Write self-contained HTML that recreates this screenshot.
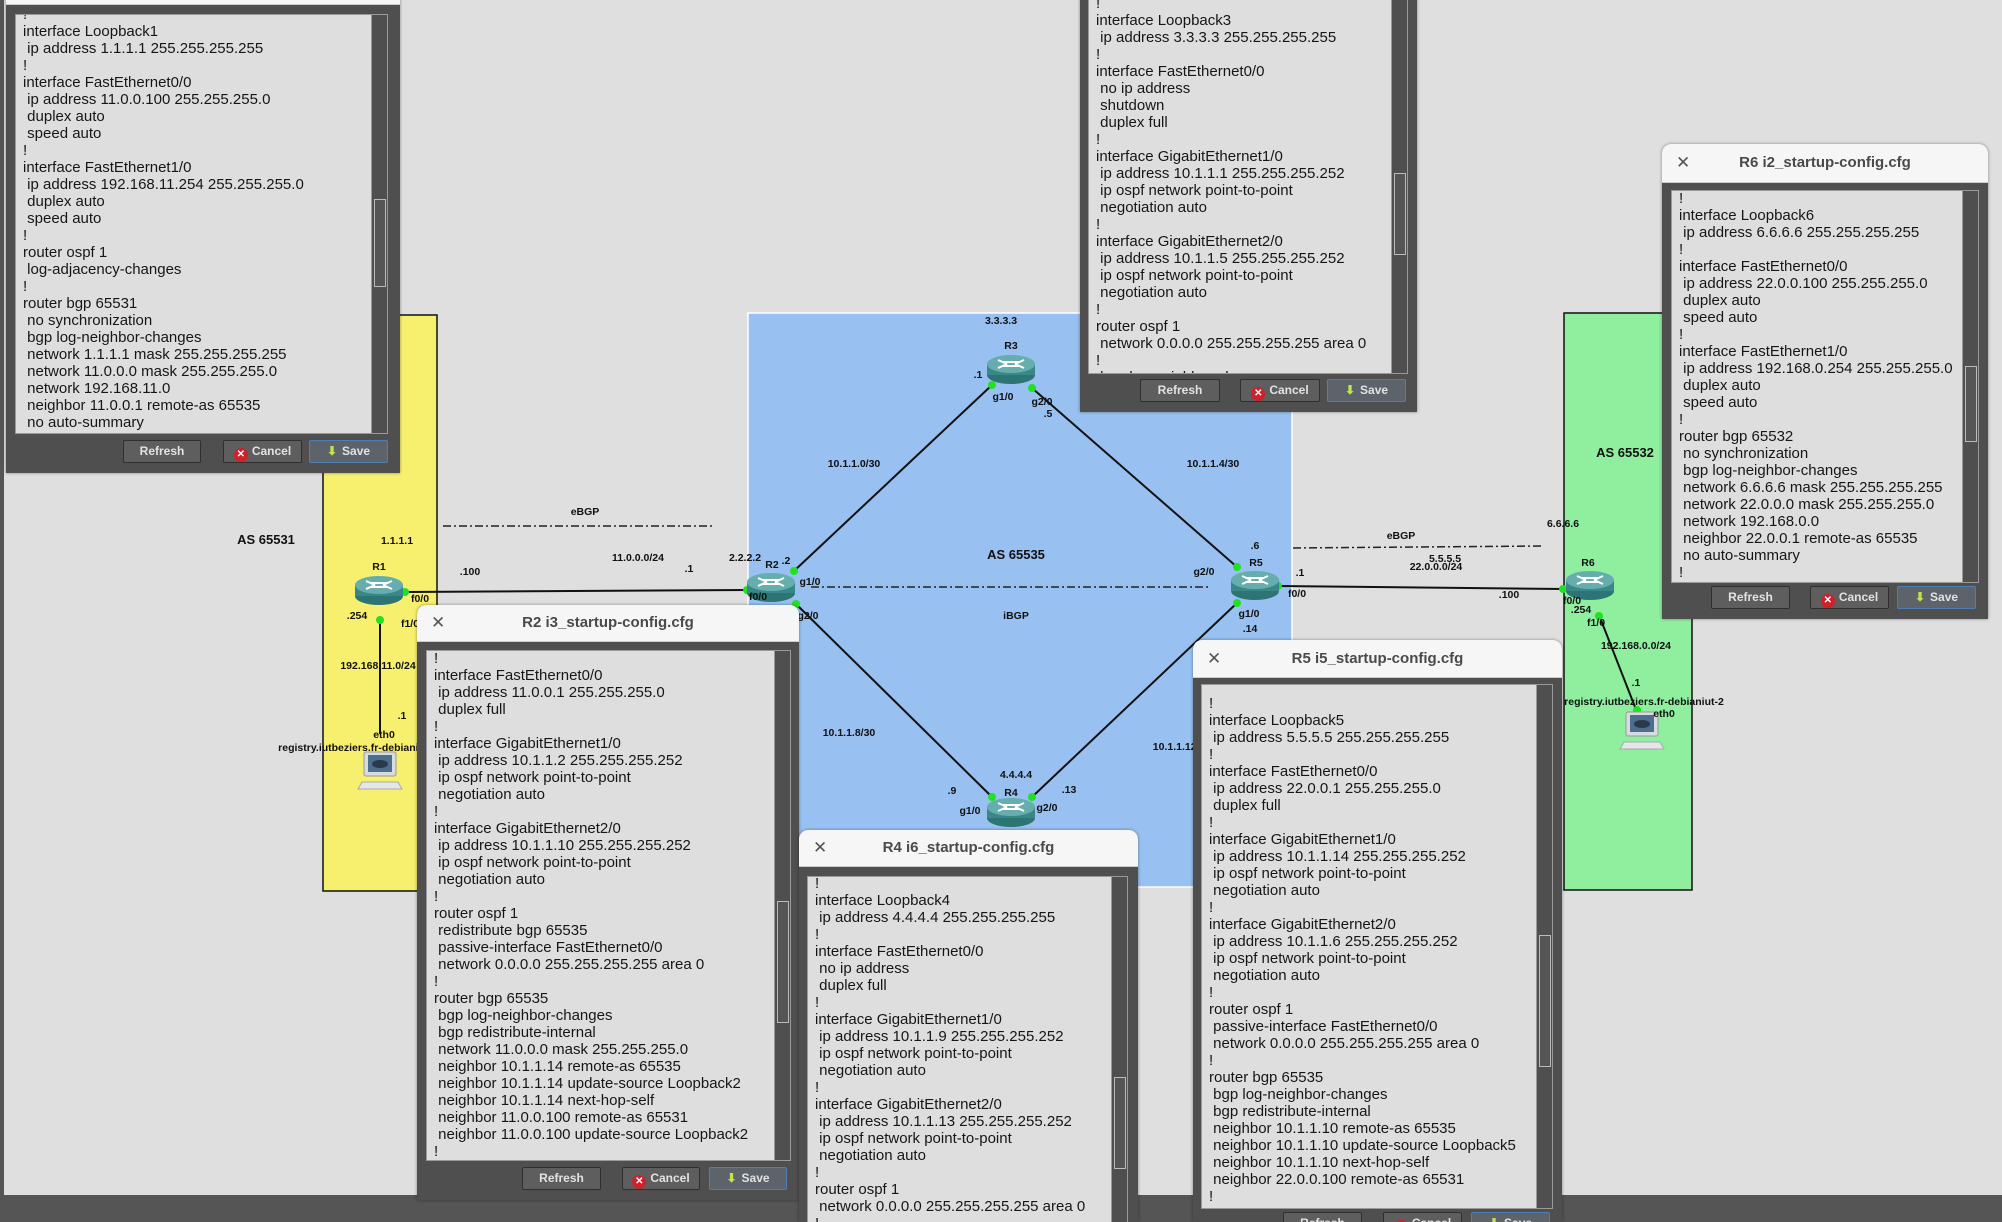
<!DOCTYPE html>
<html><head><meta charset="utf-8"><style>
body{margin:0;width:2002px;height:1222px;position:relative;overflow:hidden;background:#555555;font-family:"Liberation Sans",sans-serif}
#canvas{position:absolute;left:4px;top:0;width:1998px;height:1195px;background:#dfdfdf}
svg{position:absolute;left:0;top:0}
.dlg{position:absolute;background:#4f4f4f;border-radius:9px 9px 0 0;overflow:hidden;box-shadow:0 0 3px rgba(0,0,0,.4)}
.title{position:absolute;left:0;right:0;top:0;background:#f6f6f6;color:#4a4a4a;font-weight:bold;font-size:15px;text-align:center;border-bottom:1px solid #ccc}
.title .x{position:absolute;left:14px;font-weight:normal;font-size:17px;color:#555}
.ta{position:absolute;background:#dedede;border:1px solid #9a9a9a;overflow:hidden}
.ta pre{margin:0;position:absolute;left:7px;font-family:"Liberation Sans",sans-serif;font-size:15px;line-height:17px;color:#161616}
.sb{position:absolute;right:0;top:0;bottom:0;width:15px;background:#4f4f4f;border-left:1px solid #999}
.sb .th{position:absolute;left:2px;width:10px;border:1px solid #bbb;background:#555}
.btn{position:absolute;height:21px;background:#5e5e5e;border:1px solid #2f2f2f;border-radius:2px;color:#e2e2e2;font-weight:bold;font-size:12px;text-align:center;line-height:21px}
.btn.save{border-color:#4f7fb0;background:#5c636b}
.ci{display:inline-block;width:14px;height:14px;border-radius:7px;background:#d0202a;color:#fff;font-size:10px;line-height:14px;margin-right:4px;vertical-align:-2px}
.ar{color:#c8e04a;margin-right:5px}
</style></head><body>
<div id="canvas"></div>
<svg width="2002" height="1222" viewBox="0 0 2002 1222" font-family="Liberation Sans, sans-serif" font-weight="bold" font-size="10.5" fill="#111">
<defs>
<g id="rt">
<ellipse cx="0" cy="6" rx="24" ry="9" fill="#2d7575"/>
<rect x="-24" y="-5" width="48" height="11" fill="#3a8787"/>
<ellipse cx="0" cy="-5" rx="24" ry="9" fill="#66aeae"/>
<path d="M-13,-9 L-4,-5 M-13,-1 L-4,-5 M13,-9 L4,-5 M13,-1 L4,-5 M-8,-7 L8,-7 M-8,-3 L8,-3" stroke="#fff" stroke-width="2" fill="none"/>
</g>
<g id="pc">
<rect x="-16" y="-20" width="32" height="24" rx="2" fill="#d8dce0" stroke="#999"/>
<rect x="-12" y="-17" width="24" height="17" fill="#4e6e8e"/>
<ellipse cx="0" cy="-8" rx="8" ry="4" fill="#2a3a4a"/>
<path d="M-18,10 L18,10 L22,17 L-22,17 Z" fill="#e4e6e8" stroke="#aaa"/>
</g>
</defs>
<rect x="323" y="315" width="114" height="576" fill="#f7f06e" stroke="#111" stroke-width="1.5"/>
<rect x="748" y="313" width="544" height="574" fill="#98c0f0" stroke="#fff" stroke-width="1.5"/>
<rect x="1564" y="313" width="128" height="577" fill="#8fef9f" stroke="#111" stroke-width="1.5"/>
<g stroke="#111" stroke-width="2">
<line x1="405" y1="592" x2="747" y2="590"/>
<line x1="794" y1="571" x2="992" y2="385"/>
<line x1="1032" y1="388" x2="1237" y2="567"/>
<line x1="796" y1="604" x2="992" y2="797"/>
<line x1="1032" y1="797" x2="1237" y2="603"/>
<line x1="1278" y1="586" x2="1563" y2="589"/>
<line x1="380" y1="618" x2="380" y2="734"/>
<line x1="1599" y1="615" x2="1637" y2="712"/>
</g>
<g stroke="#222" stroke-width="1.5" stroke-dasharray="8,3,2,3">
<line x1="443" y1="526" x2="715" y2="526"/>
<line x1="811" y1="587" x2="1210" y2="587"/>
<line x1="1293" y1="548" x2="1542" y2="546"/>
</g>
<g fill="#22e022">
<circle cx="405" cy="592" r="4"/><circle cx="747" cy="590" r="4"/>
<circle cx="794" cy="571" r="4"/><circle cx="992" cy="385" r="4"/>
<circle cx="1032" cy="388" r="4"/><circle cx="1237" cy="567" r="4"/>
<circle cx="796" cy="604" r="4"/><circle cx="992" cy="797" r="4"/>
<circle cx="1032" cy="797" r="4"/><circle cx="1237" cy="603" r="4"/>
<circle cx="1278" cy="586" r="4"/><circle cx="1563" cy="589" r="4"/>
<circle cx="380" cy="620" r="4"/><circle cx="1599" cy="616" r="4"/>
<circle cx="1637" cy="710" r="4"/>
</g>
<use href="#rt" x="379" y="590"/>
<use href="#rt" x="771" y="587"/>
<use href="#rt" x="1011" y="369"/>
<use href="#rt" x="1011" y="812"/>
<use href="#rt" x="1255" y="585"/>
<use href="#rt" x="1590" y="585"/>
<use href="#pc" x="380" y="772"/>
<use href="#pc" x="1642" y="732"/>
<g text-anchor="middle">
<text x="266" y="544" font-size="13">AS 65531</text>
<text x="397" y="544">1.1.1.1</text>
<text x="379" y="570">R1</text>
<text x="470" y="575">.100</text>
<text x="585" y="515">eBGP</text>
<text x="638" y="561">11.0.0.0/24</text>
<text x="689" y="572">.1</text>
<text x="745" y="561">2.2.2.2</text>
<text x="772" y="568">R2</text>
<text x="786" y="564">.2</text>
<text x="420" y="602">f0/0</text>
<text x="758" y="600">f0/0</text>
<text x="810" y="585">g1/0</text>
<text x="808" y="619">g2/0</text>
<text x="357" y="619">.254</text>
<text x="410" y="627">f1/0</text>
<text x="378" y="669">192.168.11.0/24</text>
<text x="402" y="719">.1</text>
<text x="384" y="738">eth0</text>
<text x="358" y="751">registry.iutbeziers.fr-debianiut-1</text>
<text x="854" y="467">10.1.1.0/30</text>
<text x="1213" y="467">10.1.1.4/30</text>
<text x="1001" y="324">3.3.3.3</text>
<text x="1011" y="349">R3</text>
<text x="978" y="378">.1</text>
<text x="1003" y="400">g1/0</text>
<text x="1042" y="405">g2/0</text>
<text x="1048" y="417">.5</text>
<text x="1016" y="559" font-size="13">AS 65535</text>
<text x="1016" y="619">iBGP</text>
<text x="1255" y="549">.6</text>
<text x="1256" y="566">R5</text>
<text x="1204" y="575">g2/0</text>
<text x="1297" y="597">f0/0</text>
<text x="1249" y="617">g1/0</text>
<text x="1250" y="632">.14</text>
<text x="1300" y="576">.1</text>
<text x="1401" y="539">eBGP</text>
<text x="1445" y="562">5.5.5.5</text>
<text x="1436" y="570">22.0.0.0/24</text>
<text x="1509" y="598">.100</text>
<text x="1625" y="457" font-size="13">AS 65532</text>
<text x="1563" y="527">6.6.6.6</text>
<text x="1588" y="566">R6</text>
<text x="1572" y="604">f0/0</text>
<text x="1581" y="613">.254</text>
<text x="1596" y="626">f1/0</text>
<text x="1636" y="649">192.168.0.0/24</text>
<text x="1636" y="686">.1</text>
<text x="1644" y="705">registry.iutbeziers.fr-debianiut-2</text>
<text x="1664" y="717">eth0</text>
<text x="849" y="736">10.1.1.8/30</text>
<text x="1182" y="750">10.1.1.12/30</text>
<text x="1016" y="778">4.4.4.4</text>
<text x="1011" y="796">R4</text>
<text x="952" y="794">.9</text>
<text x="1069" y="793">.13</text>
<text x="970" y="814">g1/0</text>
<text x="1047" y="811">g2/0</text>
</g>
</svg>

<div class="dlg" style="left:6px;top:-8px;width:394px;height:481px;border-radius:0">
<div class="title" style="height:12px"></div>
<div class="ta" style="left:9px;top:22px;width:371px;height:418px">
<pre style="top:-9px">!
interface Loopback1
 ip address 1.1.1.1 255.255.255.255
!
interface FastEthernet0/0
 ip address 11.0.0.100 255.255.255.0
 duplex auto
 speed auto
!
interface FastEthernet1/0
 ip address 192.168.11.254 255.255.255.0
 duplex auto
 speed auto
!
router ospf 1
 log-adjacency-changes
!
router bgp 65531
 no synchronization
 bgp log-neighbor-changes
 network 1.1.1.1 mask 255.255.255.255
 network 11.0.0.0 mask 255.255.255.0
 network 192.168.11.0
 neighbor 11.0.0.1 remote-as 65535
 no auto-summary</pre>
<div class="sb"><div class="th" style="top:184px;height:86px"></div></div>
</div>
<div class="btn" style="left:117px;top:448px;width:76px">Refresh</div>
<div class="btn" style="left:217px;top:448px;width:77px"><span class="ci">✕</span>Cancel</div>
<div class="btn save" style="left:303px;top:448px;width:77px"><span class="ar">⬇</span>Save</div>
</div>

<div class="dlg" style="left:1080px;top:-8px;width:337px;height:420px;border-radius:0">
<div class="ta" style="left:8px;top:0px;width:318px;height:380px">
<pre style="top:2px">!
interface Loopback3
 ip address 3.3.3.3 255.255.255.255
!
interface FastEthernet0/0
 no ip address
 shutdown
 duplex full
!
interface GigabitEthernet1/0
 ip address 10.1.1.1 255.255.255.252
 ip ospf network point-to-point
 negotiation auto
!
interface GigabitEthernet2/0
 ip address 10.1.1.5 255.255.255.252
 ip ospf network point-to-point
 negotiation auto
!
router ospf 1
 network 0.0.0.0 255.255.255.255 area 0
!
 bgp log-neighbor-changes</pre>
<div class="sb"><div class="th" style="top:180px;height:80px"></div></div>
</div>
<div class="btn" style="left:60px;top:387px;width:78px">Refresh</div>
<div class="btn" style="left:160px;top:387px;width:78px"><span class="ci">✕</span>Cancel</div>
<div class="btn save" style="left:247px;top:387px;width:77px"><span class="ar">⬇</span>Save</div>
</div>

<div class="dlg" style="left:1662px;top:144px;width:326px;height:475px">
<div class="title" style="height:38px;line-height:38px"><span class="x">✕</span>R6 i2_startup-config.cfg</div>
<div class="ta" style="left:9px;top:46px;width:306px;height:391px">
<pre style="top:-1.5px">!
interface Loopback6
 ip address 6.6.6.6 255.255.255.255
!
interface FastEthernet0/0
 ip address 22.0.0.100 255.255.255.0
 duplex auto
 speed auto
!
interface FastEthernet1/0
 ip address 192.168.0.254 255.255.255.0
 duplex auto
 speed auto
!
router bgp 65532
 no synchronization
 bgp log-neighbor-changes
 network 6.6.6.6 mask 255.255.255.255
 network 22.0.0.0 mask 255.255.255.0
 network 192.168.0.0
 neighbor 22.0.0.1 remote-as 65535
 no auto-summary
!</pre>
<div class="sb"><div class="th" style="top:175px;height:74px"></div></div>
</div>
<div class="btn" style="left:49px;top:442px;width:77px">Refresh</div>
<div class="btn" style="left:148px;top:442px;width:77px"><span class="ci">✕</span>Cancel</div>
<div class="btn save" style="left:235px;top:442px;width:77px"><span class="ar">⬇</span>Save</div>
</div>

<div class="dlg" style="left:417px;top:605px;width:382px;height:595px">
<div class="title" style="height:36px;line-height:36px"><span class="x">✕</span>R2 i3_startup-config.cfg</div>
<div class="ta" style="left:9px;top:45px;width:363px;height:509px">
<pre style="top:-1.5px">!
interface FastEthernet0/0
 ip address 11.0.0.1 255.255.255.0
 duplex full
!
interface GigabitEthernet1/0
 ip address 10.1.1.2 255.255.255.252
 ip ospf network point-to-point
 negotiation auto
!
interface GigabitEthernet2/0
 ip address 10.1.1.10 255.255.255.252
 ip ospf network point-to-point
 negotiation auto
!
router ospf 1
 redistribute bgp 65535
 passive-interface FastEthernet0/0
 network 0.0.0.0 255.255.255.255 area 0
!
router bgp 65535
 bgp log-neighbor-changes
 bgp redistribute-internal
 network 11.0.0.0 mask 255.255.255.0
 neighbor 10.1.1.14 remote-as 65535
 neighbor 10.1.1.14 update-source Loopback2
 neighbor 10.1.1.14 next-hop-self
 neighbor 11.0.0.100 remote-as 65531
 neighbor 11.0.0.100 update-source Loopback2
!</pre>
<div class="sb"><div class="th" style="top:250px;height:120px"></div></div>
</div>
<div class="btn" style="left:105px;top:562px;width:77px">Refresh</div>
<div class="btn" style="left:205px;top:562px;width:76px"><span class="ci">✕</span>Cancel</div>
<div class="btn save" style="left:292px;top:562px;width:76px"><span class="ar">⬇</span>Save</div>
</div>

<div class="dlg" style="left:799px;top:830px;width:339px;height:392px">
<div class="title" style="height:36px;line-height:36px"><span class="x">✕</span>R4 i6_startup-config.cfg</div>
<div class="ta" style="left:8px;top:46px;width:319px;height:360px">
<pre style="top:-2.5px">!
interface Loopback4
 ip address 4.4.4.4 255.255.255.255
!
interface FastEthernet0/0
 no ip address
 duplex full
!
interface GigabitEthernet1/0
 ip address 10.1.1.9 255.255.255.252
 ip ospf network point-to-point
 negotiation auto
!
interface GigabitEthernet2/0
 ip address 10.1.1.13 255.255.255.252
 ip ospf network point-to-point
 negotiation auto
!
router ospf 1
 network 0.0.0.0 255.255.255.255 area 0
!</pre>
<div class="sb"><div class="th" style="top:200px;height:90px"></div></div>
</div>
</div>

<div class="dlg" style="left:1193px;top:640px;width:369px;height:582px">
<div class="title" style="height:37px;line-height:37px"><span class="x">✕</span>R5 i5_startup-config.cfg</div>
<div class="ta" style="left:8px;top:44px;width:350px;height:523px">
<pre style="top:9.5px">!
interface Loopback5
 ip address 5.5.5.5 255.255.255.255
!
interface FastEthernet0/0
 ip address 22.0.0.1 255.255.255.0
 duplex full
!
interface GigabitEthernet1/0
 ip address 10.1.1.14 255.255.255.252
 ip ospf network point-to-point
 negotiation auto
!
interface GigabitEthernet2/0
 ip address 10.1.1.6 255.255.255.252
 ip ospf network point-to-point
 negotiation auto
!
router ospf 1
 passive-interface FastEthernet0/0
 network 0.0.0.0 255.255.255.255 area 0
!
router bgp 65535
 bgp log-neighbor-changes
 bgp redistribute-internal
 neighbor 10.1.1.10 remote-as 65535
 neighbor 10.1.1.10 update-source Loopback5
 neighbor 10.1.1.10 next-hop-self
 neighbor 22.0.0.100 remote-as 65531
!</pre>
<div class="sb"><div class="th" style="top:250px;height:130px"></div></div>
</div>
<div class="btn" style="left:90px;top:572px;width:77px">Refresh</div>
<div class="btn" style="left:190px;top:572px;width:77px"><span class="ci">✕</span>Cancel</div>
<div class="btn save" style="left:278px;top:572px;width:77px"><span class="ar">⬇</span>Save</div>
</div>
</body></html>
